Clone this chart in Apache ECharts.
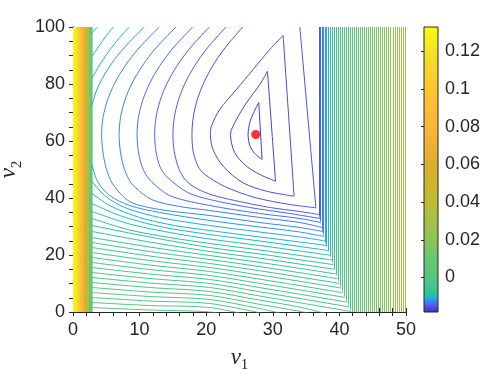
<!DOCTYPE html>
<html>
<head>
<meta charset="utf-8">
<script src="https://cdn.jsdelivr.net/npm/echarts@6/dist/echarts.min.js"></script>
<style>html,body{margin:0;padding:0;background:#fff}#chart{width:498px;height:374px}</style>
</head>
<body>
<div id="chart"></div>
<script>
// ---- data (nu1, nu2 coordinates) ----
var minPoint = [27.44, 62.28];

// closed contours around the minimum: curved arm + straight right side
var innerLevels = [-0.0172, -0.0166, -0.0160, -0.0154];
var innerCurves = [
    [[27.89,73.51],[27.14,70.0],[26.54,66.49],[26.29,62.28],[26.54,58.42],[27.29,55.61],[28.39,53.51]],
    [[29.20,84.49],[28.05,79.82],[26.05,73.40],[24.54,67.54],[23.64,62.28],[24.29,55.86],[26.05,51.16],[28.05,48.25],[30.41,45.89]],
    [[31.55,97.02],[29.55,92.11],[27.04,85.09],[24.54,78.07],[22.03,71.05],[20.78,65.19],[20.63,62.28],[21.02,57.02],[22.53,51.16],[25.53,45.33],[29.05,42.39],[33.20,40.63]],
    [[25.49,100],[22.69,92.28],[20.95,86.28],[19.60,80.28],[18.63,74.28],[18.05,68.28],[17.86,62.28],[18.05,56.28],[18.8,51.0],[19.77,48.3],[22.78,44.04],[27.29,40.18],[32.56,37.72],[36.47,36.56]]
];
var innerSides = [
    [[28.39,53.51],[27.89,73.51]],
    [[30.41,45.89],[29.20,84.49]],
    [[33.20,40.63],[31.55,97.02]],
    [[36.47,36.56],[34.06,100]]
];

// open contours whose left tip is visible
var vertexLevels = [-0.0148, -0.0142, -0.0136, -0.0130, -0.0124];
var vertexCurves = [
    [[22.98,100],[20.05,92.28],[18.24,86.28],[16.82,80.28],[15.82,74.28],[15.21,68.28],[15.01,62.28],[15.2,56.28],[15.9,50.28],[16.9,46.28],[18.6,43.3],[21.0,41.0],[24.29,39.12],[29.55,36.67],[34.06,35.26],[36.92,34.21]],
    [[20.48,100],[17.46,92.28],[15.59,86.28],[14.13,80.28],[13.09,74.28],[12.47,68.28],[12.26,62.28],[12.46,56.28],[13.1,50.8],[14.21,47.19],[17.22,41.93],[20.53,39.47],[26.54,36.67],[32.56,34.56],[37.07,32.81]],
    [[17.97,100],[14.90,92.28],[13.00,86.28],[11.52,80.28],[10.47,74.28],[9.83,68.28],[9.62,62.28],[9.82,56.28],[10.4,50.8],[11.50,46.49],[14.51,40.88],[20.53,37.37],[28.05,34.56],[34.06,32.81],[37.22,31.40]],
    [[15.46,100],[12.32,92.28],[10.38,86.28],[8.86,80.28],[7.78,74.28],[7.14,68.28],[6.92,62.28],[7.12,56.28],[7.7,50.3],[8.80,45.09],[11.80,39.47],[16.02,37.02],[20.53,35.61],[28.05,33.16],[34.06,31.40],[37.37,29.65]],
    [[12.96,100],[9.77,92.28],[7.80,86.28],[6.26,80.28],[5.17,74.28],[4.51,68.28],[4.29,62.28],[4.49,56.28],[5.0,50.3],[5.94,45.0],[8.50,38.77],[13.01,35.96],[20.53,33.86],[28.05,31.40],[34.06,29.65],[37.52,28.25]]
];

// upper arms cut by the left strip
var edgeLevels = [-0.0118, -0.0112, -0.0106, -0.0100];
var edgeUpperArms = [
    [[10.71,100],[8.3,94.3],[6.2,88.5],[4.6,82.8],[3.5,77.5],[2.85,72.5]],
    [[8.45,100],[6.9,96.0],[5.4,91.5],[3.9,86.3],[2.85,81.9]],
    [[6.05,100],[4.9,96.6],[3.9,93.3],[2.85,89.75]],
    [[3.64,100],[2.85,97.72]]
];

// lower arms, from the left strip to the slanted boundary
var lowerLevels = [-0.0118, -0.0112, -0.0106, -0.0100, -0.0094, -0.0088, -0.0082, -0.0076,
    -0.0070, -0.0064, -0.0058, -0.0052, -0.0046, -0.0040, -0.0034, -0.0028, -0.0022,
    -0.0016, -0.0010, -0.0004, 0.0002, 0.0008, 0.0014];
var lowerArms = [
    [[2.85,51.75],[3.68,45.79],[5.49,40.88],[8.50,37.37],[13.01,34.91],[20.53,32.11],[28.05,29.82],[34.06,28.07],[37.67,26.49]],
    [[2.85,45.79],[4.74,40.88],[7.74,36.67],[13.01,33.16],[20.53,30.35],[28.05,28.07],[34.06,26.32],[37.89,24.91]],
    [[2.85,41.58],[5.49,37.37],[10.0,33.16],[15.26,30.35],[20.53,28.60],[28.05,26.32],[34.06,24.56],[38.12,23.33]],
    [[2.85,38.07],[6.99,33.86],[13.01,30.0],[20.53,27.19],[28.05,24.91],[34.06,22.98],[38.33,21.58]],
    [[2.85,35.26],[8.50,30.88],[14.51,27.89],[20.53,25.61],[28.05,23.33],[34.06,21.40],[38.57,19.93]],
    [[2.85,32.81],[8.50,28.77],[14.51,26.14],[20.53,24.04],[28.05,21.75],[34.06,19.82],[38.87,18.28]],
    [[2.85,30.35],[11.50,26.32],[20.53,22.63],[28.05,20.35],[34.06,18.32],[39.07,16.63]],
    [[2.85,28.25],[11.50,24.56],[20.53,21.23],[28.05,18.88],[34.06,16.81],[39.29,14.98]],
    [[2.85,26.14],[11.50,22.81],[20.53,19.82],[28.05,17.40],[34.06,15.30],[39.52,13.33]],
    [[2.85,24.39],[11.50,21.23],[20.53,18.42],[28.05,15.93],[34.06,13.79],[39.74,11.68]],
    [[2.85,22.63],[11.50,19.65],[20.53,17.02],[28.05,14.46],[34.06,12.28],[40.0,10.04]],
    [[2.85,20.88],[11.50,18.07],[20.53,15.61],[28.05,12.98],[34.06,10.77],[40.27,8.39]],
    [[2.85,19.12],[11.50,16.49],[20.53,14.21],[28.05,11.51],[34.06,9.26],[40.54,6.74]],
    [[2.85,17.37],[11.50,14.91],[20.53,12.81],[28.05,10.04],[34.06,7.75],[40.86,5.09]],
    [[2.85,15.61],[11.50,13.33],[20.53,11.40],[28.05,8.56],[34.06,6.25],[41.16,3.44]],
    [[2.85,13.86],[11.50,11.75],[20.53,10.0],[28.05,7.09],[34.06,4.74],[41.47,1.79]],
    [[2.85,12.11],[11.50,10.18],[20.53,8.60],[28.05,5.61],[34.06,3.23],[41.79,0.14]],
    [[2.85,10.35],[11.50,8.60],[20.53,7.19],[28.05,4.14],[34.06,1.72],[39.32,-1.40]],
    [[2.85,8.60],[11.50,7.02],[20.53,5.79],[28.05,2.67],[34.06,0.21],[37.07,-1.40]],
    [[2.85,6.84],[11.50,5.44],[20.53,4.39],[28.05,1.19],[32.56,-1.23]],
    [[2.85,5.09],[11.50,3.86],[20.53,2.98],[28.05,-0.28]],
    [[2.85,3.33],[11.50,2.28],[20.53,1.58],[26.54,-1.23]],
    [[2.85,1.58],[11.50,0.70],[20.53,0],[25.04,-1.93]]
];

// vertical contours right of the boundary
var rightLineX = [36.99, 37.22, 37.44, 37.67, 37.89, 38.12, 38.42, 38.72, 39.02, 39.32,
    39.62, 39.92, 40.23, 40.53, 40.83, 41.13, 41.43, 41.73, 42.03, 42.33, 42.63, 42.93,
    43.23, 43.53, 43.83, 44.14, 44.44, 44.74, 45.04, 45.34, 45.64, 45.94, 46.24, 46.54,
    46.84, 47.14, 47.44, 47.74, 48.05, 48.35, 48.65, 48.95, 49.25, 49.55, 49.85];
var rightLineLevel = [-0.0150, -0.0140, -0.0130, -0.0121, -0.0112, -0.0104, -0.0096, -0.0088,
    -0.0080, -0.0070, -0.0060, -0.0050, -0.0040, -0.0030, -0.0020, -0.0010, 0.0000, 0.0011,
    0.0021, 0.0032, 0.0042, 0.0053, 0.0063, 0.0074, 0.0084, 0.0095, 0.0105, 0.0116, 0.0126,
    0.0137, 0.0147, 0.0158, 0.0168, 0.0179, 0.0189, 0.0200, 0.0210, 0.0221, 0.0231, 0.0242,
    0.0252, 0.0263, 0.0273, 0.0284, 0.0294];

// boundary of the middle region (top to bottom)
var boundaryNu1 = [36.9, 36.92, 37.82, 38.83, 39.77, 40.53, 41.8];
var boundaryNu2 = [100, 34.21, 24.7, 18.4, 11.4, 6.8, 0];

// left strip: dense contours, cell edges and values
var stripEdges = [0, 0.2, 0.4, 0.6, 0.8, 1.0, 1.2, 1.4, 1.6, 1.8, 2.0, 2.2, 2.4, 2.6, 2.85];
var stripLevels = [0.130, 0.126, 0.121, 0.114, 0.105, 0.094, 0.085, 0.077, 0.066, 0.054, 0.042, 0.029, 0.016, 0.004];

// colorbar
var cbRange = [-0.0183, 0.1328];
var cbTicks = [0, 0.02, 0.04, 0.06, 0.08, 0.1, 0.12];

// ---- colormap (style) ----
var CMAP = [
    [-0.0183,'#3e26a8'],[-0.0172,'#4638c8'],[-0.0160,'#4a4ade'],[-0.0148,'#4a5ae8'],
    [-0.0136,'#4270f2'],[-0.0124,'#3686f0'],[-0.0118,'#2d96ea'],[-0.0112,'#24a6e0'],
    [-0.0106,'#1cb3d2'],[-0.0100,'#1dbac2'],[-0.0094,'#22bdb0'],[-0.0085,'#2cc0a3'],
    [-0.0070,'#38c296'],[-0.0050,'#42c48d'],[-0.0020,'#4cc586'],[0,'#52c582'],
    [0.01,'#6bc670'],[0.02,'#8bc55c'],[0.03,'#a8c046'],[0.04,'#bdbb32'],[0.05,'#cdb52d'],
    [0.06,'#dcae2c'],[0.07,'#eeb034'],[0.08,'#fbb53a'],[0.09,'#fcbd34'],[0.10,'#fcc72e'],
    [0.11,'#f8d42a'],[0.12,'#f3e325'],[0.1328,'#f9fb0e']
];
function hexRgb(h) {
    return [parseInt(h.slice(1,3),16), parseInt(h.slice(3,5),16), parseInt(h.slice(5,7),16)];
}
function colorAt(v) {
    if (v <= CMAP[0][0]) return CMAP[0][1];
    for (var i = 1; i < CMAP.length; i++) {
        if (v <= CMAP[i][0]) {
            var t = (v - CMAP[i-1][0]) / (CMAP[i][0] - CMAP[i-1][0]);
            var a = hexRgb(CMAP[i-1][1]), b = hexRgb(CMAP[i][1]);
            return 'rgb(' + a.map(function (c, k) { return Math.round(c + (b[k] - c) * t); }).join(',') + ')';
        }
    }
    return CMAP[CMAP.length-1][1];
}

var AX = '#262626';
var labelFont = { fontSize: 18, color: AX, fontFamily: 'Liberation Sans' };
var nameRich = {
    i: { fontFamily: 'Liberation Serif', fontStyle: 'italic', fontSize: 23, color: AX, lineHeight: 30, verticalAlign: 'middle' },
    s: { fontFamily: 'Liberation Serif', fontSize: 15, color: AX, lineHeight: 30, verticalAlign: 'bottom' }
};

function contourSeries(points, level) {
    return {
        type: 'line', xAxisIndex: 0, yAxisIndex: 0, data: points,
        showSymbol: false, symbol: 'none', smooth: 0.3, silent: true, z: 4,
        lineStyle: { color: colorAt(level), width: 1 }
    };
}

const initChart = () => {
    const chart = echarts.init(document.getElementById('chart'));
    let series = [];

    series.push({
        type: 'custom', xAxisIndex: 0, yAxisIndex: 0, z: 1, silent: true,
        data: rightLineX.map(function (x, i) { return [x, rightLineLevel[i]]; }),
        renderItem: function (params, api) {
            var p0 = api.coord([api.value(0), 0]), p1 = api.coord([api.value(0), 100]);
            var px = Math.round(p0[0] - 0.5) + 0.5;
            return { type: 'line', shape: { x1: px, y1: p0[1], x2: px, y2: p1[1] },
                style: { stroke: colorAt(api.value(1)), lineWidth: 1 } };
        }
    });
    // white middle region hides the vertical lines left of the boundary
    series.push({
        type: 'custom', xAxisIndex: 0, yAxisIndex: 0, z: 2, silent: true,
        data: [[0, 0]],
        renderItem: function (params, api) {
            var pts = boundaryNu1.map(function (x, i) { return api.coord([x, boundaryNu2[i]]); });
            pts.push(api.coord([stripEdges[0], 0]), api.coord([stripEdges[0], 100]));
            return { type: 'polygon', shape: { points: pts }, style: { fill: '#ffffff' } };
        }
    });
    series.push({
        type: 'custom', xAxisIndex: 0, yAxisIndex: 0, z: 3, silent: true,
        data: stripLevels.map(function (v, i) { return [stripEdges[i], stripEdges[i+1], v]; }),
        renderItem: function (params, api) {
            var p0 = api.coord([api.value(0), 100]), p1 = api.coord([api.value(1), 0]);
            return { type: 'rect', shape: { x: p0[0], y: p0[1], width: p1[0] - p0[0] + 0.6, height: p1[1] - p0[1] },
                style: { fill: colorAt(api.value(2)) } };
        }
    });

    innerCurves.forEach(function (c, i) {
        series.push(contourSeries(c, innerLevels[i]));
        series.push(contourSeries(innerSides[i], innerLevels[i]));
    });
    vertexCurves.forEach(function (c, i) { series.push(contourSeries(c, vertexLevels[i])); });
    edgeUpperArms.forEach(function (c, i) { series.push(contourSeries(c, edgeLevels[i])); });
    lowerArms.forEach(function (c, i) { series.push(contourSeries(c, lowerLevels[i])); });

    series.push({
        type: 'scatter', xAxisIndex: 0, yAxisIndex: 0, z: 6, silent: true,
        data: [minPoint], symbolSize: 9, itemStyle: { color: '#ff0000' }
    });

    // colorbar
    series.push({
        type: 'custom', xAxisIndex: 2, yAxisIndex: 2, z: 2, silent: true,
        data: [[0, cbRange[0], cbRange[1]]],
        renderItem: function (params, api) {
            var top = api.coord([0, api.value(2)]), bot = api.coord([1, api.value(1)]);
            var span = cbRange[1] - cbRange[0];
            var stops = CMAP.map(function (s) {
                return { offset: (cbRange[1] - s[0]) / span, color: s[1] };
            }).reverse();
            return { type: 'rect', shape: { x: top[0], y: top[1], width: bot[0] - top[0], height: bot[1] - top[1] },
                style: { fill: new echarts.graphic.LinearGradient(0, 0, 0, 1, stops), stroke: AX, lineWidth: 1 } };
        }
    });

    var tickStyle = { inside: true, length: 4, lineStyle: { color: AX } };
    var xMinor = { show: true, splitNumber: 5, length: 4, lineStyle: { color: AX } };
    var yMinor = { show: true, splitNumber: 4, length: 4, lineStyle: { color: AX } };

    chart.setOption({
        animation: false,
        grid: [
            { left: 73, top: 27, width: 333, height: 285, outerBoundsMode: 'none' },
            { left: 424, top: 27, width: 14, height: 285, outerBoundsMode: 'none' }
        ],
        xAxis: [
            { gridIndex: 0, type: 'value', min: 0, max: 50, interval: 10, position: 'bottom',
              axisLine: { lineStyle: { color: AX } }, axisTick: tickStyle, minorTick: xMinor,
              splitLine: { show: false }, axisLabel: Object.assign({ margin: 9 }, labelFont),
              name: '{i|ν}{s|1}', nameLocation: 'middle', nameGap: 31, nameTextStyle: { rich: nameRich } },
            { gridIndex: 0, type: 'value', min: 0, max: 50, interval: 10, position: 'top',
              axisLine: { lineStyle: { color: AX } }, axisTick: tickStyle, minorTick: xMinor,
              splitLine: { show: false }, axisLabel: { show: false } },
            { gridIndex: 1, type: 'value', min: 0, max: 1, show: false }
        ],
        yAxis: [
            { gridIndex: 0, type: 'value', min: 0, max: 100, interval: 20, position: 'left',
              axisLine: { lineStyle: { color: AX } }, axisTick: tickStyle, minorTick: yMinor,
              splitLine: { show: false }, axisLabel: Object.assign({ margin: 8 }, labelFont),
              name: '{i|ν}{s|2}', nameLocation: 'middle', nameRotate: 90, nameGap: 37,
              nameTextStyle: { rich: nameRich } },
            { gridIndex: 0, type: 'value', min: 0, max: 100, interval: 20, position: 'right',
              axisLine: { lineStyle: { color: AX } }, axisTick: tickStyle, minorTick: yMinor,
              splitLine: { show: false }, axisLabel: { show: false } },
            { gridIndex: 1, type: 'value', min: cbRange[0], max: cbRange[1], position: 'right',
              axisLine: { show: false }, splitLine: { show: false },
              axisTick: { inside: true, length: 3, lineStyle: { color: AX }, customValues: cbTicks },
              axisLabel: Object.assign({ margin: 7, customValues: cbTicks }, labelFont) }
        ],
        series: series
    });
};

initChart();
</script>
</body>
</html>
